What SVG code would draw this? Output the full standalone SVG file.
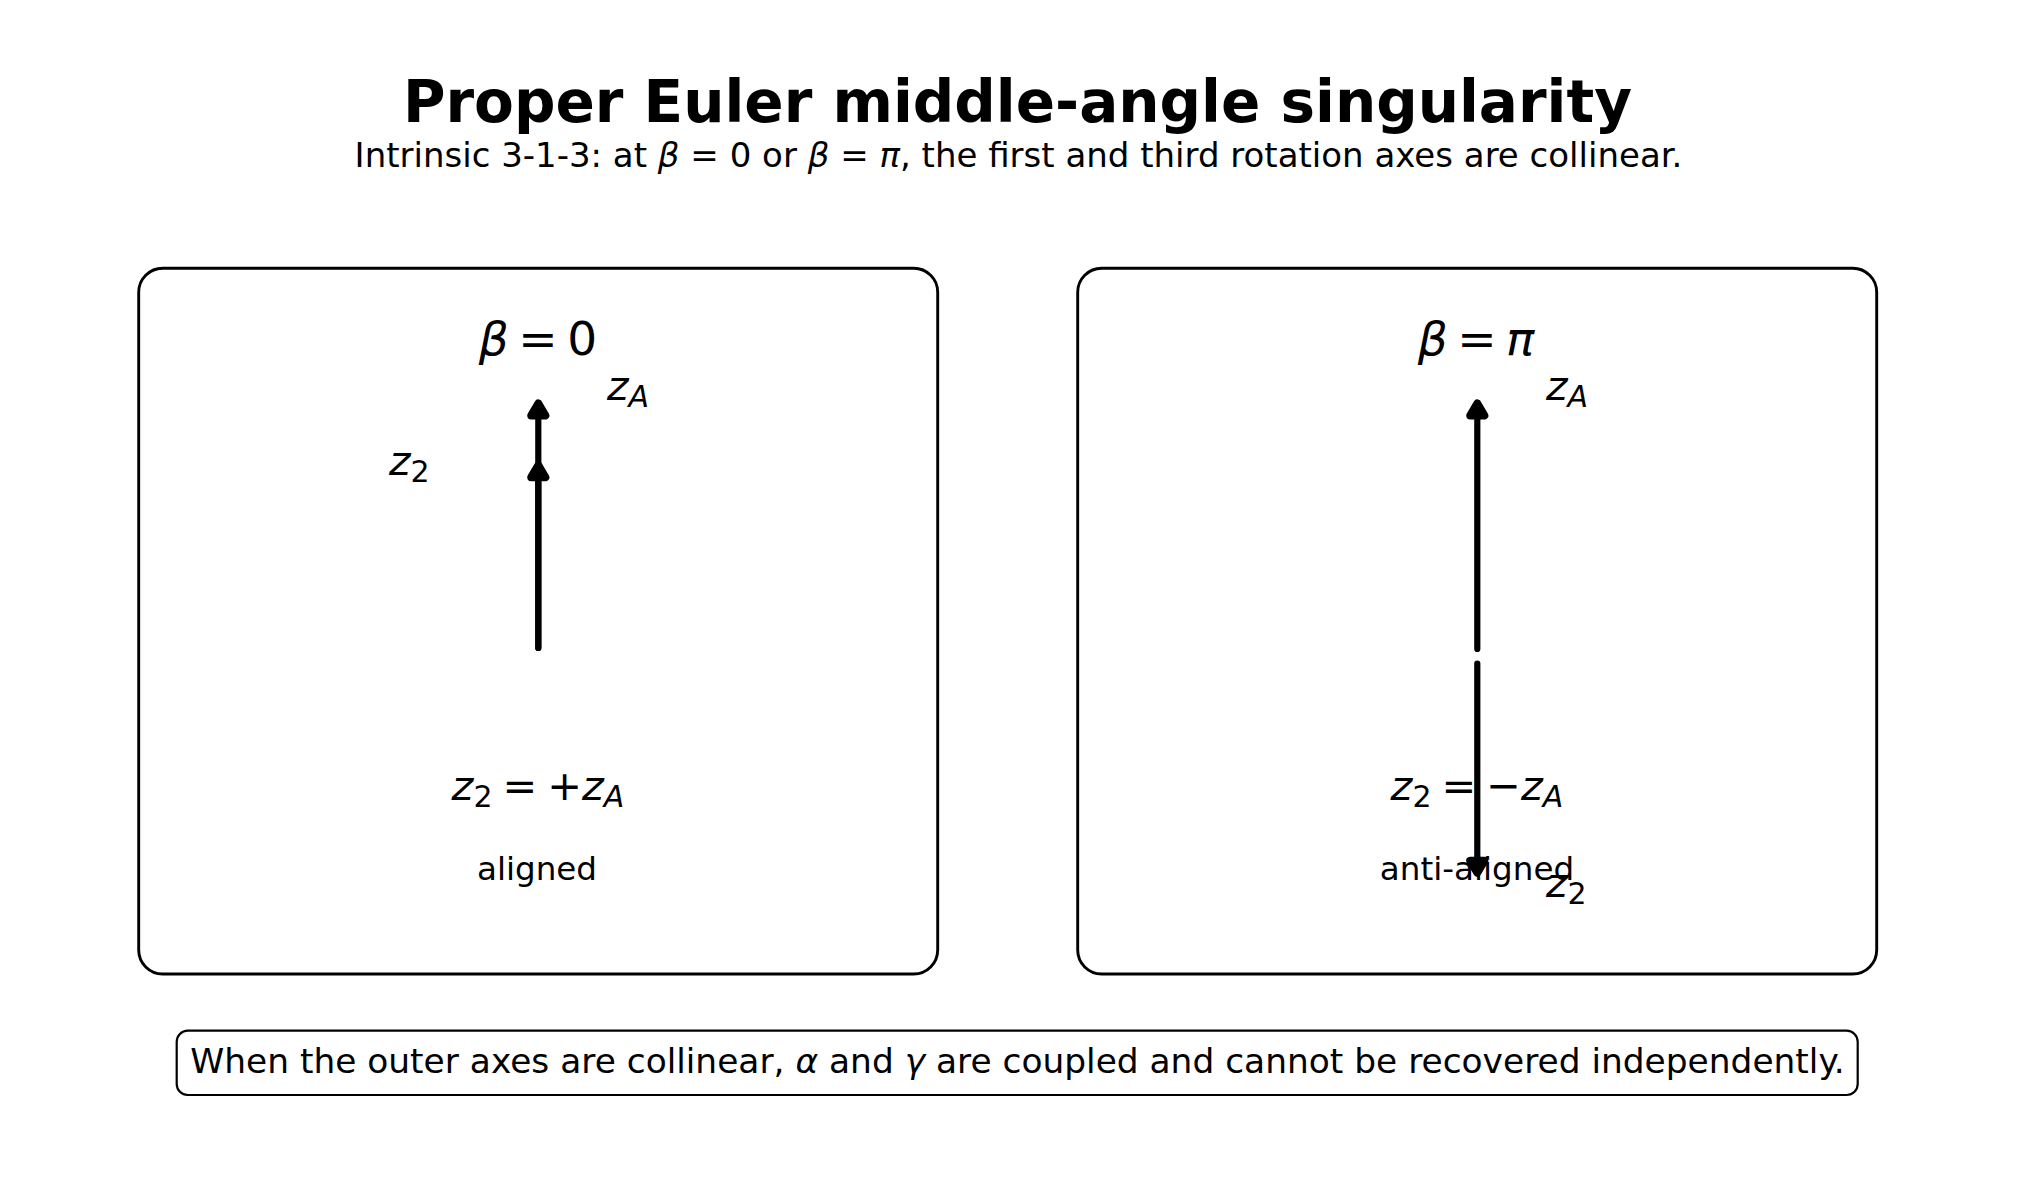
<svg xmlns="http://www.w3.org/2000/svg" width="2035" height="1177" viewBox="0 0 2035 1177">
<defs>
<style>
text { font-family: "DejaVu Sans", "Liberation Sans", sans-serif; fill: #000; }
.title { font-size: 58px; font-weight: bold; text-anchor: middle; }
.sub { font-size: 34px; text-anchor: middle; }
.note-text { font-size: 34.4px; text-anchor: middle; }
.i { font-style: italic; }
.beta { font-size: 47px; text-anchor: middle; }
.lab { font-size: 41px; }
.eq { font-size: 41.5px; text-anchor: middle; }
.sb { font-size: 30px; }
.small { font-size: 32.6px; text-anchor: middle; }
.panel { fill: #fff; stroke: #000; stroke-width: 2.9; }
.note { fill: #fff; stroke: #000; stroke-width: 2.2; }
.axis { fill: none; stroke: #000; stroke-width: 6.2; stroke-linecap: round; }
</style>
<marker id="head" markerUnits="userSpaceOnUse" markerWidth="40" markerHeight="40" viewBox="-10 -15 30 30" refX="0" refY="0" orient="auto" overflow="visible">
<path d="M0,-5.3 L9,0 L0,5.3 Z" fill="#000" stroke="#000" stroke-width="6" stroke-linejoin="round"/>
</marker>
</defs>
<rect width="2035" height="1177" fill="#fff"/>

<g id="title">
<text class="title" x="1017.5" y="122">Proper Euler middle-angle singularity</text>
<text class="sub" x="1018.5" y="166.5">Intrinsic 3-1-3: at <tspan class="i">β</tspan> = 0 or <tspan class="i">β</tspan> = <tspan class="i">π</tspan>, the first and third rotation axes are collinear.</text>
</g>

<g id="panel-beta-0">
<rect class="panel" x="138.7" y="268.3" width="799" height="705.7" rx="24" ry="24"/>
<text class="beta" x="538" y="355"><tspan class="i">β</tspan><tspan dx="9.5">=</tspan><tspan dx="9.5">0</tspan></text>
<text class="lab" x="607" y="400"><tspan class="i">z</tspan><tspan class="i sb" dy="7">A</tspan></text>
<text class="lab" x="389" y="475"><tspan class="i">z</tspan><tspan class="sb" dy="7">2</tspan></text>
<text class="eq" x="538" y="800"><tspan class="i">z</tspan><tspan class="sb" dy="7">2</tspan><tspan dy="-7" dx="10">=</tspan><tspan dx="10">+</tspan><tspan class="i">z</tspan><tspan class="i sb" dy="7">A</tspan></text>
<text class="small" x="537" y="880">aligned</text>
</g>

<g id="panel-beta-pi">
<rect class="panel" x="1077.7" y="268.3" width="799" height="705.7" rx="24" ry="24"/>
<text class="beta" x="1476" y="355"><tspan class="i">β</tspan><tspan dx="9.5">=</tspan><tspan class="i" dx="9.5">π</tspan></text>
<text class="lab" x="1546" y="400"><tspan class="i">z</tspan><tspan class="i sb" dy="7">A</tspan></text>
<text class="eq" x="1477" y="800"><tspan class="i">z</tspan><tspan class="sb" dy="7">2</tspan><tspan dy="-7" dx="10">=</tspan><tspan dx="10">−</tspan><tspan class="i">z</tspan><tspan class="i sb" dy="7">A</tspan></text>
<text class="small" x="1477" y="880">anti-aligned</text>
<text class="lab" x="1546" y="897"><tspan class="i">z</tspan><tspan class="sb" dy="7">2</tspan></text>
</g>

<g id="connectors">
<path class="axis" d="M538.3,648 L538.3,415.5" marker-end="url(#head)"/>
<path class="axis" d="M538.3,648 L538.3,477.3" marker-end="url(#head)"/>
<path class="axis" d="M1477.3,649 L1477.3,415.5" marker-end="url(#head)"/>
<path class="axis" d="M1477.3,663.5 L1477.3,860.8" marker-end="url(#head)"/>
</g>

<g id="note">
<rect class="note" x="176.7" y="1030.7" width="1681" height="64.3" rx="11" ry="11"/>
<text class="note-text" x="1017.5" y="1073">When the outer axes are collinear, <tspan class="i">α</tspan> and <tspan class="i">γ</tspan> are coupled and cannot be recovered independently.</text>
</g>
</svg>
